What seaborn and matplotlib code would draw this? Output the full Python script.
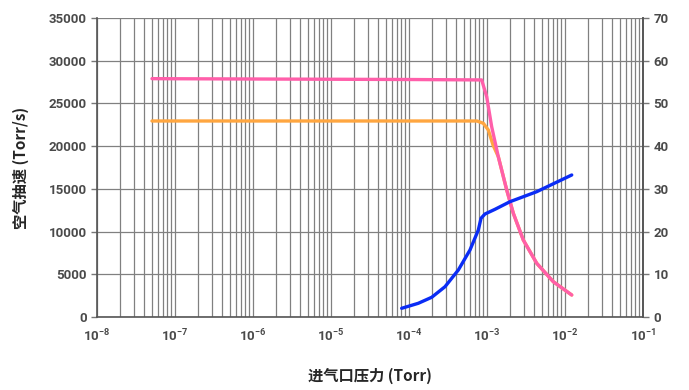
import numpy as np
import pandas as pd
import matplotlib
matplotlib.use("Agg")
import matplotlib.pyplot as plt
import seaborn as sns
from matplotlib.ticker import LogLocator, FixedLocator, NullFormatter

sns.set_style("white")
plt.rcParams['font.family'] = ['Noto Sans CJK SC', 'DejaVu Sans']
plt.rcParams['mathtext.default'] = 'regular'

# Data
pink_x = [5.07e-8, 1e-7, 1e-6, 1e-5, 1e-4, 8.55e-4, 9.91e-4, 1.148e-3, 1.396e-3, 1.79e-3,
          2.175e-3, 2.92e-3, 4.34e-3, 7.08e-3, 1.22e-2]
pink_y = [27900, 27890, 27860, 27830, 27800, 27750, 25790, 22277, 18765, 14867,
          12140, 9014, 6286, 4132, 2575]
orange_x = [5.07e-8, 1e-7, 1e-6, 1e-5, 1e-4, 7.45e-4, 8.97e-4, 1.04e-3, 1.194e-3, 1.396e-3,
            1.79e-3, 2.175e-3, 2.92e-3, 4.34e-3, 7.08e-3, 1.22e-2]
orange_y = [22944, 22944, 22944, 22944, 22944, 22944, 22675, 21890, 20134, 18765,
            14867, 12140, 9014, 6286, 4132, 2575]
blue_x = [8.05e-5, 1.315e-4, 1.954e-4, 2.895e-4, 4.29e-4, 6.05e-4, 7.74e-4, 8.38e-4,
          9.42e-4, 1.267e-3, 1.97e-3, 4.34e-3, 1.22e-2]
blue_y = [1018, 1604, 2306, 3547, 5502, 7843, 10184, 11554, 12057, 12607, 13497, 14668, 16623]

x_ticks = [1e-8, 1e-7, 1e-6, 1e-5, 1e-4, 1e-3, 1e-2, 1e-1]
x_labels = ["10$^{-8}$", "10$^{-7}$", "10$^{-6}$", "10$^{-5}$", "10$^{-4}$", "10$^{-3}$", "10$^{-2}$", "10$^{-1}$"]
y_ticks = [0, 5000, 10000, 15000, 20000, 25000, 30000, 35000]
y2_ticks = [0, 10, 20, 30, 40, 50, 60, 70]

df = pd.concat([
    pd.DataFrame({"x": orange_x, "y": orange_y, "s": "orange"}),
    pd.DataFrame({"x": pink_x, "y": pink_y, "s": "pink"}),
    pd.DataFrame({"x": blue_x, "y": blue_y, "s": "blue"}),
])
palette = {"orange": "#FFA640", "pink": "#FF5FAA", "blue": "#0A2CF5"}

fig = plt.figure(figsize=(6.89, 3.90), dpi=100)
ax = fig.add_axes([97/689, 1 - 317/390, (643-97)/689, (317-18)/390])
ax.set_xscale("log")
sns.lineplot(data=df, x="x", y="y", hue="s", palette=palette, ax=ax,
             linewidth=2.4, legend=False, sort=False, estimator=None, units="s")
for ln in ax.get_lines():
    ln.set_solid_capstyle("round")
    ln.set_solid_joinstyle("round")
ax.set_xlim(1e-8, 1e-1)
ax.set_ylim(0, 35000)

ax.xaxis.set_major_locator(FixedLocator(x_ticks))
ax.set_xticklabels(x_labels)
ax.xaxis.set_minor_locator(LogLocator(base=10, subs=np.arange(2, 10), numticks=100))
ax.xaxis.set_minor_formatter(NullFormatter())
ax.set_yticks(y_ticks)
ax.set_yticklabels([str(v) for v in y_ticks])

grid_c = "#808080"
ax.grid(True, which="major", axis="both", color=grid_c, linewidth=0.9)
ax.grid(True, which="minor", axis="x", color=grid_c, linewidth=0.9)
ax.set_axisbelow(True)
ax.spines["top"].set_visible(False)
for sp in ["left", "bottom", "right"]:
    ax.spines[sp].set_color("#555555")
    ax.spines[sp].set_linewidth(1.2)

tick_kw = dict(labelsize=9.5, direction="out", length=4, width=1, color="#777777",
               labelcolor="#4a4a4a")
ax.tick_params(axis="both", which="major", **tick_kw)
ax.tick_params(axis="x", which="minor", length=0)
for lab in ax.get_xticklabels() + ax.get_yticklabels():
    lab.set_fontweight("bold")
    lab.set_family(["Roboto", "DejaVu Sans"])

ax2 = ax.twinx()
ax2.set_ylim(0, 70)
ax2.set_yticks(y2_ticks)
ax2.tick_params(axis="y", **tick_kw)
for lab in ax2.get_yticklabels():
    lab.set_fontweight("bold")
    lab.set_family(["Roboto", "DejaVu Sans"])
for sp in ["top", "left", "bottom"]:
    ax2.spines[sp].set_visible(False)
ax2.spines["right"].set_color("#555555")
ax2.spines["right"].set_linewidth(1.2)

ax.set_xlabel("进气口压力 (Torr)", fontsize=11, fontweight="bold", labelpad=17)
ax.set_ylabel("空气抽速 (Torr/s)", fontsize=11, fontweight="bold", labelpad=14)

fig.savefig("out.png", dpi=100)
